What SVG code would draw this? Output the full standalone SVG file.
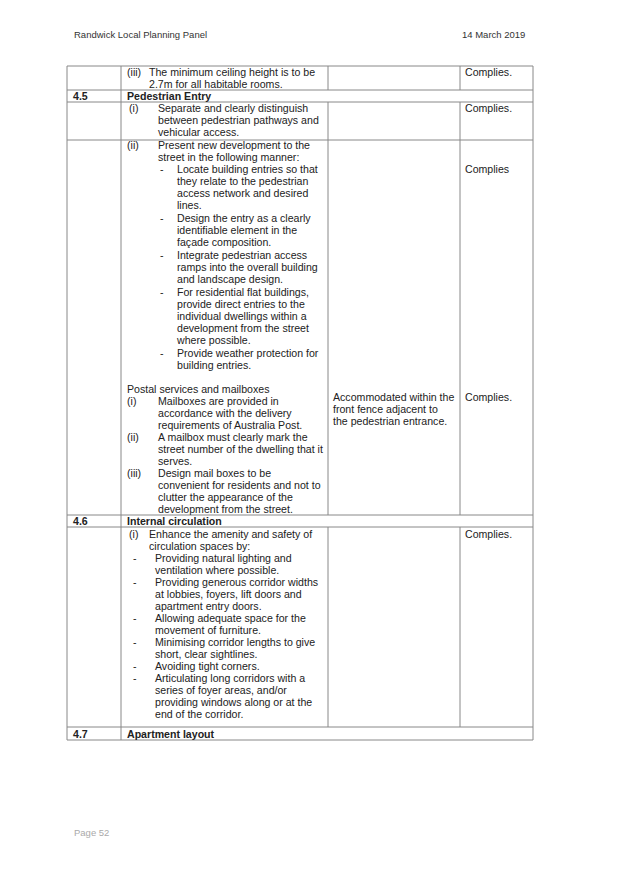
<svg xmlns="http://www.w3.org/2000/svg" width="622" height="879" viewBox="0 0 622 879">
<style>
text{font-family:"Liberation Sans",Arial,sans-serif;font-size:10.6px;fill:#222}
.b{font-weight:bold}
.h{font-size:9.5px;fill:#333}
.g{font-size:9.5px;fill:#aaa}
line{stroke:#888;stroke-width:1}
</style>
<rect width="622" height="879" fill="#fff"/>
<text class="h" x="74" y="38">Randwick Local Planning Panel</text>
<text class="h" x="462" y="38">14 March 2019</text>
<text class="g" x="74" y="836">Page 52</text>
<g id="grid">
<line x1="67" y1="66" x2="533" y2="66"/>
<line x1="67" y1="90" x2="533" y2="90"/>
<line x1="67" y1="102" x2="533" y2="102"/>
<line x1="67" y1="140" x2="533" y2="140"/>
<line x1="67" y1="515" x2="533" y2="515"/>
<line x1="67" y1="527" x2="533" y2="527"/>
<line x1="67" y1="727" x2="533" y2="727"/>
<line x1="67" y1="740" x2="533" y2="740"/>
<line x1="67" y1="66" x2="67" y2="740"/>
<line x1="533" y1="66" x2="533" y2="740"/>
<line x1="121" y1="66" x2="121" y2="740"/>
<line x1="328" y1="66" x2="328" y2="90"/><line x1="460" y1="66" x2="460" y2="90"/>
<line x1="328" y1="102" x2="328" y2="515"/><line x1="460" y1="102" x2="460" y2="515"/>
<line x1="328" y1="527" x2="328" y2="727"/><line x1="460" y1="527" x2="460" y2="727"/>
</g>
<g id="r1">
<text x="127" y="76">(iii)</text><text x="149" y="76">The minimum ceiling height is to be</text>
<text x="149" y="88">2.7m for all habitable rooms.</text>
<text x="465" y="76">Complies.</text>
</g>
<g id="r45">
<text class="b" x="73" y="100">4.5</text><text class="b" x="127" y="100">Pedestrian Entry</text>
<text x="129" y="112">(i)</text>
<text x="158" y="112">Separate and clearly distinguish</text>
<text x="158" y="124">between pedestrian pathways and</text>
<text x="158" y="136">vehicular access.</text>
<text x="465" y="112">Complies.</text>
<text x="127" y="149">(ii)</text>
<text x="158" y="149">Present new development to the</text>
<text x="158" y="161">street in the following manner:</text>
<text x="160" y="173">-</text><text x="177" y="173">Locate building entries so that</text>
<text x="177" y="185">they relate to the pedestrian</text>
<text x="177" y="197">access network and desired</text>
<text x="177" y="209">lines.</text>
<text x="160" y="222">-</text><text x="177" y="222">Design the entry as a clearly</text>
<text x="177" y="234">identifiable element in the</text>
<text x="177" y="246">façade composition.</text>
<text x="160" y="259">-</text><text x="177" y="259">Integrate pedestrian access</text>
<text x="177" y="271">ramps into the overall building</text>
<text x="177" y="283">and landscape design.</text>
<text x="160" y="296">-</text><text x="177" y="296">For residential flat buildings,</text>
<text x="177" y="308">provide direct entries to the</text>
<text x="177" y="320">individual dwellings within a</text>
<text x="177" y="332">development from the street</text>
<text x="177" y="344">where possible.</text>
<text x="160" y="357">-</text><text x="177" y="357">Provide weather protection for</text>
<text x="177" y="369">building entries.</text>
<text x="465" y="173">Complies</text>
<text x="127" y="393">Postal services and mailboxes</text>
<text x="127" y="405">(i)</text><text x="158" y="405">Mailboxes are provided in</text>
<text x="158" y="417">accordance with the delivery</text>
<text x="158" y="429">requirements of Australia Post.</text>
<text x="127" y="441">(ii)</text><text x="158" y="441">A mailbox must clearly mark the</text>
<text x="158" y="453">street number of the dwelling that it</text>
<text x="158" y="465">serves.</text>
<text x="127" y="477">(iii)</text><text x="158" y="477">Design mail boxes to be</text>
<text x="158" y="489">convenient for residents and not to</text>
<text x="158" y="501">clutter the appearance of the</text>
<text x="158" y="513">development from the street.</text>
<text x="333" y="401">Accommodated within the</text>
<text x="333" y="413">front fence adjacent to</text>
<text x="333" y="425">the pedestrian entrance.</text>
<text x="465" y="401">Complies.</text>
</g>
<g id="r46">
<text class="b" x="73" y="525">4.6</text><text class="b" x="127" y="525">Internal circulation</text>
<text x="129" y="538">(i)</text><text x="149" y="538">Enhance the amenity and safety of</text>
<text x="149" y="550">circulation spaces by:</text>
<text x="133" y="562">-</text><text x="155" y="562">Providing natural lighting and</text>
<text x="155" y="574">ventilation where possible.</text>
<text x="133" y="586">-</text><text x="155" y="586">Providing generous corridor widths</text>
<text x="155" y="598">at lobbies, foyers, lift doors and</text>
<text x="155" y="610">apartment entry doors.</text>
<text x="133" y="622">-</text><text x="155" y="622">Allowing adequate space for the</text>
<text x="155" y="634">movement of furniture.</text>
<text x="133" y="646">-</text><text x="155" y="646">Minimising corridor lengths to give</text>
<text x="155" y="658">short, clear sightlines.</text>
<text x="133" y="670">-</text><text x="155" y="670">Avoiding tight corners.</text>
<text x="133" y="682">-</text><text x="155" y="682">Articulating long corridors with a</text>
<text x="155" y="694">series of foyer areas, and/or</text>
<text x="155" y="706">providing windows along or at the</text>
<text x="155" y="718">end of the corridor.</text>
<text x="465" y="538">Complies.</text>
</g>
<g id="r47">
<text class="b" x="73" y="738">4.7</text><text class="b" x="127" y="738">Apartment layout</text>
</g>
</svg>
